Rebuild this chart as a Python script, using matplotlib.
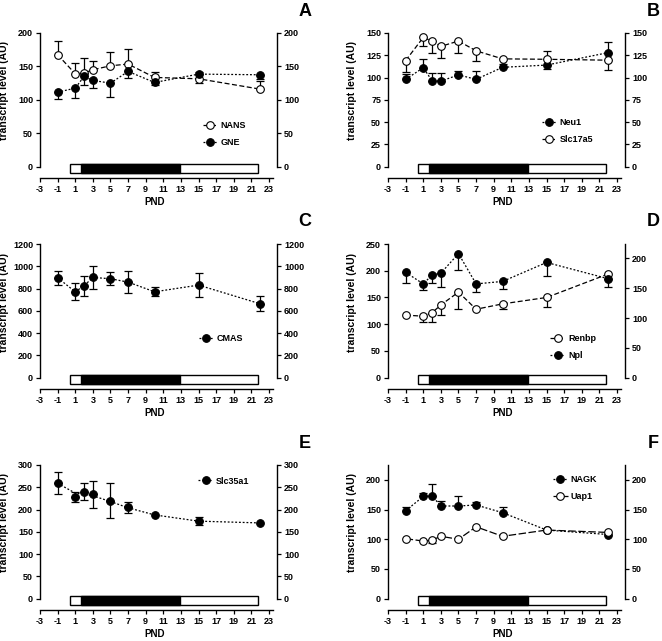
import matplotlib
matplotlib.use('Agg')
import matplotlib.pyplot as plt
from matplotlib.lines import Line2D
from matplotlib.patches import Rectangle
import matplotlib.transforms as mtransforms

plt.rcParams['font.family'] = ['Liberation Sans', 'DejaVu Sans']
plt.rcParams['font.weight'] = 'bold'

# ---------------- data ----------------
days = [-1, 1, 2, 3, 5, 7, 10, 15, 22]
xticks = list(range(-3, 24, 2))
period_bounds = [0.4, 1.6, 12.9, 21.8]   # white | black | white bar below axis

# Panel A
nans = [167.5, 139, 140, 145, 151, 153.5, 133.5, 131.5, 116]
nans_lo = [0, 0, 0, 0, 0, 0, 0, 6.5, 0]
nans_hi = [21, 16, 22.5, 12.5, 20, 22.5, 7.5, 0, 12]
gne = [111.5, 117.5, 135, 129, 125, 142.5, 126, 138.5, 137.5]
gne_lo = [10.5, 15, 12.5, 11.5, 20, 10, 3.5, 0, 6]
gne_hi = [0, 0, 0, 0, 0, 0, 0, 2.5, 0]
yticks_A = [0, 50, 100, 150, 200]

# Panel B
neu1 = [98, 111, 96.5, 96, 103, 98, 111.5, 114, 128]
neu1_lo = [0, 0, 0, 0, 0, 0, 0, 4.5, 0]
neu1_hi = [6, 9.5, 9, 9.5, 4.5, 9, 3.5, 0, 12]
slc17a5 = [119, 145, 141, 135, 141, 130, 121, 120.5, 119.5]
slc17a5_lo = [13, 9.5, 14, 13.5, 13, 11.5, 0, 0, 11]
slc17a5_hi = [0, 0, 0, 0, 0, 0, 0, 9.5, 0]
yticks_B = [0, 25, 50, 75, 100, 125, 150]

# Panel C
cmas = [897, 771, 825, 900, 888, 858, 771, 831, 663]
cmas_err = [63, 75, 90, 100, 57, 98, 39, 111, 68]
yticks_C = [0, 200, 400, 600, 800, 1000, 1200]

# Panel D
renbp = [117, 115, 121.5, 136, 160, 128, 138, 150, 194]
renbp_lo = [0, 10.5, 17, 19, 31.5, 0, 10, 17, 0]
renbp_hi = [0, 0, 0, 0, 0, 0, 0, 0, 0]
npl = [197, 175.4, 192, 195.5, 232, 175.4, 180, 215.5, 185]
npl_lo = [19, 11, 15, 26.5, 31.5, 15.5, 14.5, 25, 16]
npl_hi = [0, 0, 0, 0, 0, 0, 0, 0, 0]
yticks_D = [0, 50, 100, 150, 200, 250]
yticks_D_right = [0, 50, 100, 150, 200]
ymax_D_right = 224

# Panel E
slc35a1 = [259, 229, 240, 234, 220, 205, 187.5, 174, 170]
slc35a1_err = [25, 11, 19, 31, 39, 12, 0, 9, 0]
slc35a1_trend = [259, 237, 235, 231, 218, 204, 188, 174, 170]
yticks_E = [0, 50, 100, 150, 200, 250, 300]

# Panel F
nagk = [148, 172, 173, 156, 156, 157.7, 144.8, 115.5, 108]
nagk_lo = [0, 0, 0, 0, 0, 0, 0, 0, 0]
nagk_hi = [7, 6.6, 20, 9, 16, 5.7, 10.2, 0, 0]
uap1 = [101, 97, 98.6, 105, 100, 121, 105, 115.5, 111.5]
uap1_lo = [0, 0, 4.6, 0, 0, 0, 0, 0, 0]
uap1_hi = [0, 0, 0, 0, 0, 0, 0, 0, 0]
yticks_F = [0, 50, 100, 150, 200]
ymax_F = 225

# ---------------- figure ----------------
W, H = 662, 641
fig = plt.figure(figsize=(W / 100, H / 100), dpi=100)
AX_W, AX_H = 237, 145
ZERO_FRAC = 0.078
FS = 6.5
LW = 0.9


def make_axes(col, row):
    lefts = [40, 388]
    tops = [33, 244, 465]
    l, t = lefts[col], tops[row]
    return fig.add_axes([l / W, (H - t - AX_H) / H, AX_W / W, AX_H / H])


def setup(ax, ymax, yticks, ymax_r=None, yticks_r=None):
    lo = -ZERO_FRAC / (1 - ZERO_FRAC) * ymax
    ax.set_xlim(-3, 23.9)
    ax.set_ylim(lo, ymax)
    for s in ['top', 'right']:
        ax.spines[s].set_visible(False)
    ax.spines['left'].set_bounds(0, ymax)
    ax.spines['bottom'].set_bounds(-3, 23.5)
    for s in ['left', 'bottom']:
        ax.spines[s].set_linewidth(1.0)
    ax.set_xticks(xticks)
    ax.set_xticklabels([str(v) for v in xticks])
    ax.set_yticks(yticks)
    ax.tick_params(axis='both', direction='out', length=3, width=0.9,
                   labelsize=FS, pad=2)
    # right axis
    ax2 = ax.twinx()
    if ymax_r is None:
        ymax_r = ymax
        yticks_r = yticks
    lo_r = -ZERO_FRAC / (1 - ZERO_FRAC) * ymax_r
    ax2.set_ylim(lo_r, ymax_r)
    for s in ['top', 'left', 'bottom']:
        ax2.spines[s].set_visible(False)
    ax2.spines['right'].set_bounds(0, ymax_r)
    ax2.spines['right'].set_linewidth(1.0)
    ax2.set_yticks(yticks_r)
    ax2.tick_params(axis='y', direction='out', length=3, width=0.9,
                    labelsize=FS, pad=2)
    # period bar
    trans = mtransforms.blended_transform_factory(ax.transData, ax.transAxes)
    a, b, c, d = period_bounds
    ax.add_patch(Rectangle((a, 0.032), d - a, 0.065, fc='white', ec='black',
                           lw=1.0, transform=trans, clip_on=False, zorder=4))
    ax.add_patch(Rectangle((b, 0.032), c - b, 0.065, fc='black', ec='black',
                           lw=1.0, transform=trans, clip_on=False, zorder=5))
    ax.text(10, -0.166, 'PND', transform=trans, ha='center', va='center',
            fontsize=FS + 0.5, fontweight='bold')
    ax.set_ylabel('transcript level (AU)', fontsize=7.5, fontweight='bold')
    ax.yaxis.set_label_coords(-31 / AX_W, 0.6)
    return ax2


def series(ax, y, lo, hi, filled, ls, label, line_y=None):
    lo_i = [i for i, v in enumerate(lo) if v > 0]
    hi_i = [i for i, v in enumerate(hi) if v > 0]
    if lo_i:
        ax.errorbar([days[i] for i in lo_i], [y[i] for i in lo_i],
                    yerr=[[lo[i] for i in lo_i], [0] * len(lo_i)], fmt='none',
                    ecolor='black', elinewidth=LW, capsize=2.6, capthick=LW, zorder=2)
    if hi_i:
        ax.errorbar([days[i] for i in hi_i], [y[i] for i in hi_i],
                    yerr=[[0] * len(hi_i), [hi[i] for i in hi_i]], fmt='none',
                    ecolor='black', elinewidth=LW, capsize=2.6, capthick=LW, zorder=2)
    mfc = 'black' if filled else 'white'
    if line_y is None:
        ax.plot(days, y, ls=ls, color='black', lw=LW, zorder=3)
    else:
        ax.plot(days, line_y, ls=ls, color='black', lw=LW, zorder=3)
    ax.plot(days, y, ls='none', marker='o', ms=5.5, mfc=mfc, mec='black',
            mew=0.8, zorder=3.5)
    return Line2D([], [], ls=ls, color='black', lw=LW, marker='o', ms=5.5,
                  mfc=mfc, mec='black', mew=0.8), label


def legend(ax, items, x0, y0):
    hs = [h for h, _ in items]
    ls = [l for _, l in items]
    ax.legend(hs, ls, loc='center left', bbox_to_anchor=(x0, y0),
              bbox_transform=ax.transData, frameon=False, borderpad=0,
              borderaxespad=0, handlelength=1.7, handletextpad=0.3,
              labelspacing=0.9, fontsize=FS, numpoints=1)


DASH = (0, (4, 2))
DOT = (0, (1.5, 1.5))
LONGDASH = (0, (6, 2))

# A
ax = make_axes(0, 0)
setup(ax, 200, yticks_A)
h1 = series(ax, nans, nans_lo, nans_hi, False, DASH, 'NANS')
h2 = series(ax, gne, gne_lo, gne_hi, True, DOT, 'GNE')
legend(ax, [h1, h2], 15.45, 48.75)

# B
ax = make_axes(1, 0)
setup(ax, 150, yticks_B)
h1 = series(ax, neu1, neu1_lo, neu1_hi, True, DOT, 'Neu1')
h2 = series(ax, slc17a5, slc17a5_lo, slc17a5_hi, False, DASH, 'Slc17a5')
legend(ax, [h1, h2], 14.45, 39.75)

# C
ax = make_axes(0, 1)
setup(ax, 1200, yticks_C)
h1 = series(ax, cmas, cmas_err, cmas_err, True, DOT, 'CMAS')
legend(ax, [h1], 15.0, 351)

# D
ax = make_axes(1, 1)
setup(ax, 250, yticks_D, ymax_D_right, yticks_D_right)
h1 = series(ax, renbp, renbp_lo, renbp_hi, False, DASH, 'Renbp')
h2 = series(ax, npl, npl_lo, npl_hi, True, DOT, 'Npl')
legend(ax, [h1, h2], 15.4, 56.7)

# E
ax = make_axes(0, 2)
setup(ax, 300, yticks_E)
h1 = series(ax, slc35a1, slc35a1_err, slc35a1_err, True, DOT, 'Slc35a1',
            line_y=slc35a1_trend)
legend(ax, [h1], 14.95, 264)

# F
ax = make_axes(1, 2)
setup(ax, ymax_F, yticks_F)
h1 = series(ax, nagk, nagk_lo, nagk_hi, True, DOT, 'NAGK')
h2 = series(ax, uap1, uap1_lo, uap1_hi, False, LONGDASH, 'Uap1')
legend(ax, [h1, h2], 15.7, 186)

# panel letters
for letter, (px, py) in zip('ABCDEF', [(305, 11), (653, 11), (305, 221),
                                       (653, 221), (305, 443), (653, 443)]):
    fig.text(px / W, 1 - py / H, letter, ha='center', va='center',
             fontsize=13, fontweight='bold')

fig.savefig('out.png', dpi=100)
